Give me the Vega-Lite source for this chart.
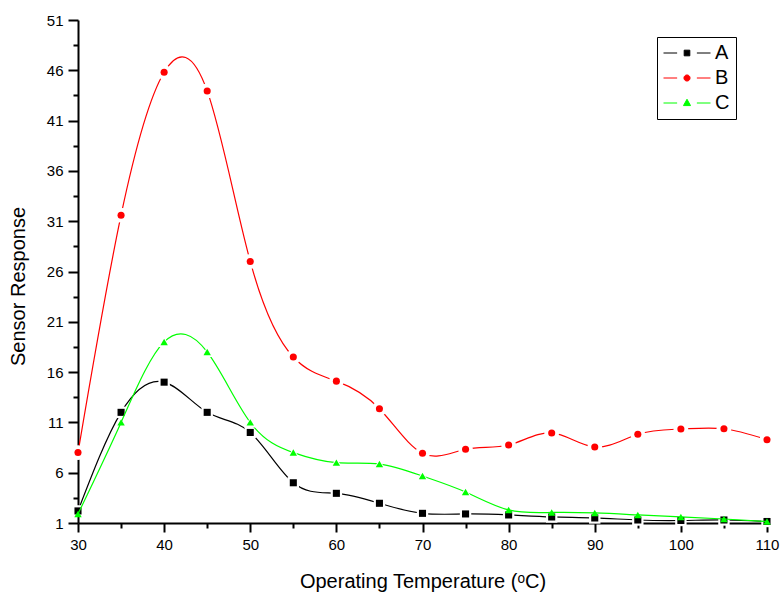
{
  "$schema": "https://vega.github.io/schema/vega-lite/v6.json",
  "width": 689,
  "height": 503,
  "autosize": {"type": "none"},
  "padding": {"left": 78, "top": 20, "right": 16, "bottom": 73},
  "background": "white",
  "config": {
    "view": {"stroke": null},
    "font": "Liberation Sans",
    "axis": {"grid": false, "domainColor": "black", "domainWidth": 2, "tickColor": "black", "tickWidth": 2, "labelColor": "black", "titleColor": "black", "labelFont": "Liberation Sans", "titleFont": "Liberation Sans", "titleFontWeight": "normal", "labelFontSize": 15, "titleFontSize": 20}
  },
  "data": {"values": [
    {"t": 30, "series": "A", "v": 2.2}, {"t": 35, "series": "A", "v": 12}, {"t": 40, "series": "A", "v": 15}, {"t": 45, "series": "A", "v": 12}, {"t": 50, "series": "A", "v": 10}, {"t": 55, "series": "A", "v": 5}, {"t": 60, "series": "A", "v": 3.95}, {"t": 65, "series": "A", "v": 2.96}, {"t": 70, "series": "A", "v": 1.96}, {"t": 75, "series": "A", "v": 1.9}, {"t": 80, "series": "A", "v": 1.8}, {"t": 85, "series": "A", "v": 1.6}, {"t": 90, "series": "A", "v": 1.5}, {"t": 95, "series": "A", "v": 1.3}, {"t": 100, "series": "A", "v": 1.25}, {"t": 105, "series": "A", "v": 1.3}, {"t": 110, "series": "A", "v": 1.15},
    {"t": 30, "series": "B", "v": 8}, {"t": 35, "series": "B", "v": 31.6}, {"t": 40, "series": "B", "v": 45.8}, {"t": 45, "series": "B", "v": 43.95}, {"t": 50, "series": "B", "v": 27}, {"t": 55, "series": "B", "v": 17.5}, {"t": 60, "series": "B", "v": 15.1}, {"t": 65, "series": "B", "v": 12.36}, {"t": 70, "series": "B", "v": 7.93}, {"t": 75, "series": "B", "v": 8.33}, {"t": 80, "series": "B", "v": 8.75}, {"t": 85, "series": "B", "v": 9.95}, {"t": 90, "series": "B", "v": 8.55}, {"t": 95, "series": "B", "v": 9.82}, {"t": 100, "series": "B", "v": 10.34}, {"t": 105, "series": "B", "v": 10.37}, {"t": 110, "series": "B", "v": 9.28},
    {"t": 30, "series": "C", "v": 1.9}, {"t": 35, "series": "C", "v": 11}, {"t": 40, "series": "C", "v": 19}, {"t": 45, "series": "C", "v": 18}, {"t": 50, "series": "C", "v": 11}, {"t": 55, "series": "C", "v": 8}, {"t": 60, "series": "C", "v": 7}, {"t": 65, "series": "C", "v": 6.86}, {"t": 70, "series": "C", "v": 5.67}, {"t": 75, "series": "C", "v": 4.08}, {"t": 80, "series": "C", "v": 2.3}, {"t": 85, "series": "C", "v": 2.05}, {"t": 90, "series": "C", "v": 2.0}, {"t": 95, "series": "C", "v": 1.8}, {"t": 100, "series": "C", "v": 1.6}, {"t": 105, "series": "C", "v": 1.4}, {"t": 110, "series": "C", "v": 1.15}
  ]},
  "encoding": {
    "x": {"field": "t", "type": "quantitative", "scale": {"domain": [30, 110], "nice": false, "zero": false},
      "axis": {"title": "Operating Temperature (ᵒC)", "values": [30, 35, 40, 45, 50, 55, 60, 65, 70, 75, 80, 85, 90, 95, 100, 105, 110], "format": "d",
        "labelExpr": "datum.value % 10 == 0 ? datum.label : ''", "labelFlush": false, "labelOverlap": false, "labelPadding": 5,
        "tickSize": {"condition": {"test": "datum.value % 10 == 0", "value": 9}, "value": 5}, "titlePadding": 19}},
    "y": {"field": "v", "type": "quantitative", "scale": {"domain": [1, 51], "nice": false, "zero": false},
      "axis": {"title": "Sensor Response", "values": [1, 3.5, 6, 8.5, 11, 13.5, 16, 18.5, 21, 23.5, 26, 28.5, 31, 33.5, 36, 38.5, 41, 43.5, 46, 48.5, 51], "format": "d",
        "labelExpr": "datum.value % 5 == 1 ? datum.label : ''", "labelFlush": false, "labelOverlap": false, "labelPadding": 5,
        "tickSize": {"condition": {"test": "datum.value % 5 == 1", "value": 10}, "value": 5}, "titlePadding": 18, "titleY": 266}}
  },
  "layer": [
    {"transform": [{"filter": "datum.series == 'A'"}], "mark": {"type": "line", "interpolate": "natural", "strokeWidth": 1.2, "color": "#000000"}, "encoding": {}},
    {"transform": [{"filter": "datum.series == 'A'"}], "mark": {"type": "point", "shape": "square", "filled": true, "opacity": 1, "color": "white", "size": 130}, "encoding": {}},
    {"transform": [{"filter": "datum.series == 'A'"}], "mark": {"type": "point", "shape": "square", "filled": true, "opacity": 1, "color": "#000000", "size": 50}, "encoding": {}},
    {"transform": [{"filter": "datum.series == 'B'"}], "mark": {"type": "line", "interpolate": "natural", "strokeWidth": 1.2, "color": "#ff0000"}, "encoding": {}},
    {"transform": [{"filter": "datum.series == 'B'"}], "mark": {"type": "point", "shape": "circle", "filled": true, "opacity": 1, "color": "white", "size": 220}, "encoding": {}},
    {"transform": [{"filter": "datum.series == 'B'"}], "mark": {"type": "point", "shape": "circle", "filled": true, "opacity": 1, "color": "#ff0000", "size": 50}, "encoding": {}},
    {"transform": [{"filter": "datum.series == 'C'"}], "mark": {"type": "line", "interpolate": "natural", "strokeWidth": 1.2, "color": "#00ff00"}, "encoding": {}},
    {"transform": [{"filter": "datum.series == 'C' && datum.t >= 40 && datum.t <= 75"}], "mark": {"type": "point", "shape": "triangle-up", "filled": true, "opacity": 1, "color": "white", "size": 140}, "encoding": {}},
    {"transform": [{"filter": "datum.series == 'C'"}], "mark": {"type": "point", "shape": "triangle-up", "filled": true, "opacity": 1, "color": "#00ff00", "size": 55}, "encoding": {}},
    {
      "transform": [{"filter": "datum.t < 0"}],
      "mark": {"type": "point", "filled": true, "opacity": 1, "strokeWidth": 1},
      "encoding": {
        "shape": {"field": "series", "type": "nominal",
          "scale": {"domain": ["A", "B", "C"], "range": [
            "M-1,0H-0.42M0.42,0H1M-0.12,-0.12H0.12V0.12H-0.12Z",
            "M-1,0H-0.42M0.42,0H1M0.13,0A0.13,0.13 0 1,1 -0.13,0A0.13,0.13 0 1,1 0.13,0Z",
            "M-1,0H-0.42M0.42,0H1M0,-0.16L0.15,0.11H-0.15Z"]},
          "legend": {"title": null, "orient": "none", "legendX": 579, "legendY": 17, "strokeColor": "black", "padding": 6, "symbolSize": 2209, "symbolStrokeWidth": 1, "labelFontSize": 20, "labelFont": "Liberation Sans", "labelColor": "black", "labelOffset": 4, "rowPadding": 5, "clipHeight": 20}},
        "fill": {"field": "series", "type": "nominal", "scale": {"domain": ["A", "B", "C"], "range": ["#000000", "#ff0000", "#00ff00"]},
          "legend": {"title": null, "orient": "none", "legendX": 579, "legendY": 17, "strokeColor": "black", "padding": 6, "symbolSize": 2209, "symbolStrokeWidth": 1, "labelFontSize": 20, "labelFont": "Liberation Sans", "labelColor": "black", "labelOffset": 4, "rowPadding": 5, "clipHeight": 20}},
        "stroke": {"field": "series", "type": "nominal", "scale": {"domain": ["A", "B", "C"], "range": ["#000000", "#ff0000", "#00ff00"]},
          "legend": {"title": null, "orient": "none", "legendX": 579, "legendY": 17, "strokeColor": "black", "padding": 6, "symbolSize": 2209, "symbolStrokeWidth": 1, "labelFontSize": 20, "labelFont": "Liberation Sans", "labelColor": "black", "labelOffset": 4, "rowPadding": 5, "clipHeight": 20}}
      }
    }
  ]
}
